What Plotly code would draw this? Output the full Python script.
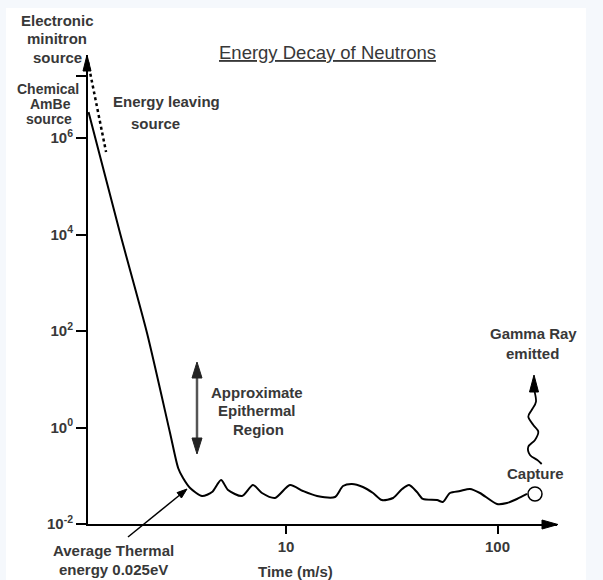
import math
import plotly.graph_objects as go

# ---------------- data ----------------
time_s = [1.165, 1.641, 2.202, 2.83, 3.09, 3.26, 3.52, 4.01, 4.47, 4.93,
          5.32, 6.19, 6.98, 7.70, 8.87, 10.44, 12.03, 14.02, 17.05, 18.6,
          20.5, 23.1, 25.8, 28.4, 32.1, 35.4, 38.2, 41.6, 44.4, 51.8,
          55.2, 59.6, 66.5, 74.1, 82.6, 99.5, 110.9, 123.6, 137.9]
energy = [3.46e6, 1.07e4, 91, 0.769, 0.145, 0.0897, 0.0557, 0.038, 0.046, 0.0817,
          0.0507, 0.038, 0.0643, 0.0439, 0.0346, 0.0643, 0.0483, 0.038, 0.0363, 0.0613,
          0.0675, 0.0585, 0.0439, 0.0314, 0.0346, 0.0531, 0.0643, 0.046, 0.033, 0.0314,
          0.0286, 0.0439, 0.0483, 0.0531, 0.0439, 0.026, 0.0272, 0.033, 0.0419]

minitron_time = [1.158, 1.41]
minitron_energy = [3.76e7, 5.13e5]

capture_time = [150.4]
capture_energy = [0.0419]

x_tick_vals = [10, 100]
x_tick_text = ["10", "100"]
y_tick_vals = [1e-2, 1, 1e2, 1e4, 1e6, 10 ** 7.285]
y_tick_text = ["10<sup>-2</sup>", "10<sup>0</sup>", "10<sup>2</sup>",
               "10<sup>4</sup>", "10<sup>6</sup>", ""]

# ---------------- layout helpers ----------------
W, H = 603, 580
L, R, T, B = 88, 46, 55, 56
PW, PH = W - L - R, H - T - B
FONT = "Liberation Sans, Arial, sans-serif"
TXT = "#383838"


def px(x):
    return (x - L) / PW


def py(y):
    return (H - B - y) / PH


def head(tipx, tipy, fromx, fromy, length, half, color="black"):
    dx, dy = tipx - fromx, tipy - fromy
    d = math.hypot(dx, dy)
    ux, uy = dx / d, dy / d
    bx, by = tipx - ux * length, tipy - uy * length
    nx, ny = -uy, ux
    p1 = (bx + nx * half, by + ny * half)
    p2 = (bx - nx * half, by - ny * half)
    path = (f"M{px(tipx)},{py(tipy)} L{px(p1[0])},{py(p1[1])} "
            f"L{px(p2[0])},{py(p2[1])} Z")
    return dict(type="path", path=path, xref="paper", yref="paper",
                fillcolor=color, line=dict(color=color, width=1))


def seg(x0, y0, x1, y1, color="black", width=1.5):
    return dict(type="line", xref="paper", yref="paper",
                x0=px(x0), y0=py(y0), x1=px(x1), y1=py(y1),
                line=dict(color=color, width=width))


def smooth_path(pts):
    s = f"M{px(pts[0][0])},{py(pts[0][1])}"
    for i in range(len(pts) - 1):
        p0 = pts[i - 1] if i > 0 else pts[i]
        p1 = pts[i]
        p2 = pts[i + 1]
        p3 = pts[i + 2] if i + 2 < len(pts) else pts[i + 1]
        c1 = (p1[0] + (p2[0] - p0[0]) / 6, p1[1] + (p2[1] - p0[1]) / 6)
        c2 = (p2[0] - (p3[0] - p1[0]) / 6, p2[1] - (p3[1] - p1[1]) / 6)
        s += (f" C{px(c1[0])},{py(c1[1])} {px(c2[0])},{py(c2[1])} "
              f"{px(p2[0])},{py(p2[1])}")
    return s


fig = go.Figure()

fig.add_trace(go.Scatter(
    x=time_s, y=energy, mode="lines",
    line=dict(color="black", width=2, shape="spline", smoothing=0.7),
    hoverinfo="skip"))

fig.add_trace(go.Scatter(
    x=minitron_time, y=minitron_energy, mode="lines",
    line=dict(color="black", width=2.5, dash="dot"),
    hoverinfo="skip"))

fig.add_trace(go.Scatter(
    x=capture_time, y=capture_energy, mode="markers",
    marker=dict(size=14, color="white", line=dict(color="black", width=1.5)),
    hoverinfo="skip"))

shapes = [
    # page background: white sheet on faint blue border
    dict(type="rect", xref="paper", yref="paper", layer="below",
         x0=px(6), y0=py(8), x1=px(586), y1=py(H + 2),
         fillcolor="white", line=dict(width=0)),
    # axis arrowheads
    head(558, 524.5, 540, 524.5, 16, 4.5),
    head(87, 55, 87, 80, 16, 4),
    # epithermal double arrow
    seg(197, 374, 197, 442, color="#555555", width=2.5),
    head(197, 362, 197, 380, 16, 5, color="#222222"),
    head(197, 454, 197, 436, 16, 5, color="#222222"),
    # average thermal energy pointer
    seg(128, 537, 181, 494, width=1.5),
    head(187, 489, 128, 537, 10, 3.5),
    # gamma ray wavy arrow
    dict(type="path", xref="paper", yref="paper",
         path=smooth_path([(541.7, 464), (537.3, 460), (530, 455), (528.3, 446.7),
                           (535, 440), (538.3, 431.7), (533.3, 425), (528.3, 416.7),
                           (531.7, 410), (536, 401.7), (534.3, 390)]),
         line=dict(color="black", width=1.8)),
    head(534, 375, 534, 395, 17, 4.5),
]

# (text, centre x px, centre y px, font size)
labels = [
    ("Electronic", 57, 20, 15), ("minitron", 57, 38.5, 15), ("source", 57, 57, 15),
    ("Chemical", 48, 89, 14), ("AmBe", 50, 104, 14), ("source", 49, 119, 14),
    ("Energy leaving", 166, 102, 15), ("source", 155, 123, 15),
    ("Approximate", 257, 392, 15), ("Epithermal", 257, 410.5, 15), ("Region", 258, 429, 15),
    ("Average Thermal", 113, 550.5, 15), ("energy 0.025eV", 113, 569, 15),
    ("Time (m/s)", 295, 571, 15),
    ("Gamma Ray", 533, 333, 15), ("emitted", 532, 353, 15),
    ("Capture", 535, 473, 15),
]

annotations = [
    dict(text=f"<b>{t}</b>", x=px(x), y=py(y), xref="paper", yref="paper",
         xanchor="center", yanchor="middle", showarrow=False,
         font=dict(family=FONT, size=s, color=TXT))
    for t, x, y, s in labels
]
annotations.append(
    dict(text="<u>Energy Decay of Neutrons</u>", x=px(327), y=py(53),
         xref="paper", yref="paper", xanchor="center", yanchor="middle",
         showarrow=False, font=dict(family=FONT, size=18.5, color=TXT)))

fig.update_layout(
    width=W, height=H, autosize=False,
    margin=dict(l=L, r=R, t=T, b=B, pad=0),
    paper_bgcolor="#f5f8fc", plot_bgcolor="white",
    showlegend=False,
    shapes=shapes, annotations=annotations,
    xaxis=dict(type="log", range=[1 - 198 / 211.5, 1 + 271 / 211.5],
               tickvals=x_tick_vals, ticktext=[f"<b>{t}</b>" for t in x_tick_text],
               ticks="outside", ticklen=8, tickwidth=1.5, tickcolor="black",
               showgrid=False, zeroline=False,
               showline=True, linewidth=2, linecolor="black",
               tickfont=dict(family=FONT, size=15, color=TXT)),
    yaxis=dict(type="log", range=[-2, -2 + PH / 48.25],
               tickvals=y_tick_vals, ticktext=[f"<b>{t}</b>" if t else "" for t in y_tick_text],
               ticks="outside", ticklen=10, tickwidth=1.5, tickcolor="black",
               showgrid=False, zeroline=False,
               showline=True, linewidth=2, linecolor="black",
               tickfont=dict(family=FONT, size=15, color=TXT)),
)

fig.write_html("out.html")
